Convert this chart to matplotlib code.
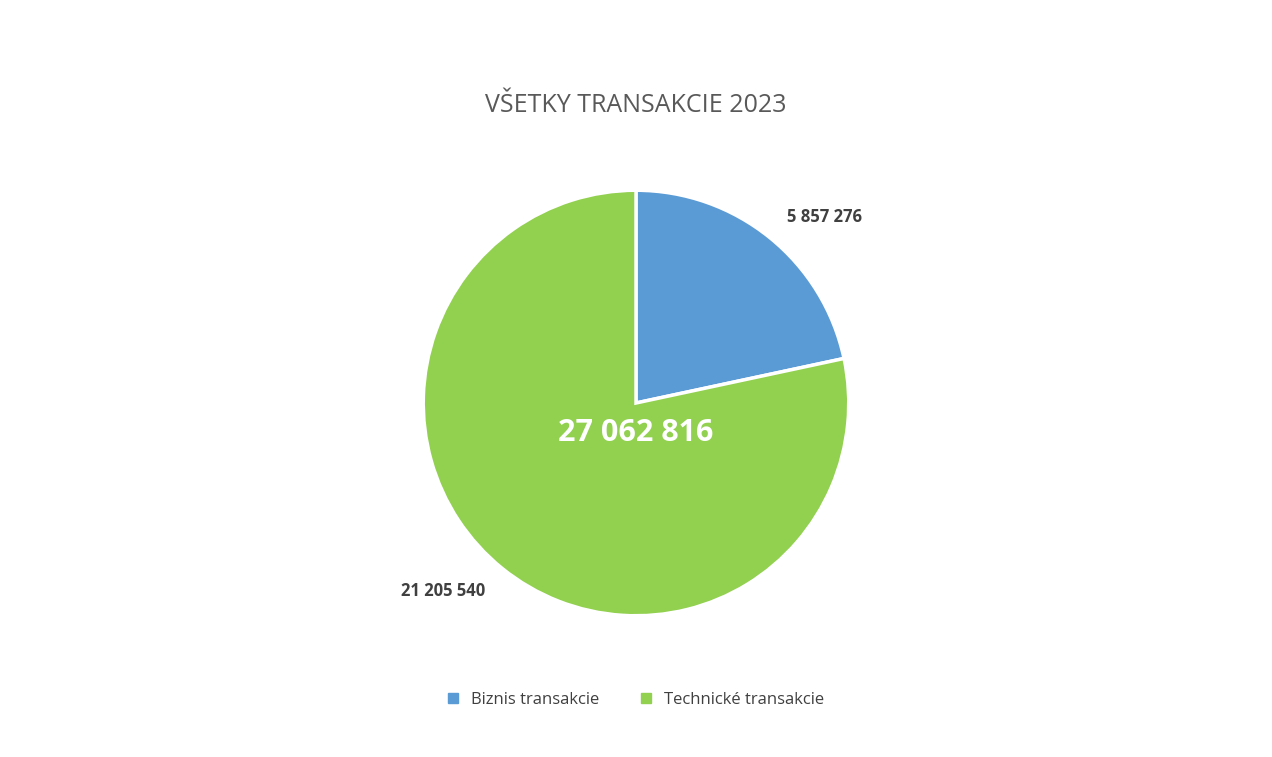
import matplotlib.pyplot as plt
from matplotlib.patches import Patch

plt.rcParams['font.family'] = ['Open Sans', 'DejaVu Sans']

kategorie = ['Biznis transakcie', 'Technické transakcie']
hodnoty = [5857276, 21205540]
popisky = ['5 857 276', '21 205 540']
spolu = '27 062 816'
farby = ['#5B9BD5', '#92D050']

fig = plt.figure(figsize=(12.72, 7.57), dpi=100)
r = 217
ax = fig.add_axes([(636 - r) / 1272, (757 - 403 - r) / 757, 2 * r / 1272, 2 * r / 757])
ax.pie(hodnoty, colors=farby, startangle=90, counterclock=False, radius=1,
       wedgeprops=dict(edgecolor='white', linewidth=2.5))
ax.set_xlim(-1.02, 1.02)
ax.set_ylim(-1.02, 1.02)
ax.set_aspect('equal')
ax.axis('off')

# popisky hodnot
ax.text(0.885, 0.876, popisky[0], ha='center', va='center', fontsize=12,
        fontweight='bold', color='#404040', clip_on=False)
ax.text(-0.908, -0.885, popisky[1], ha='center', va='center', fontsize=12,
        fontweight='bold', color='#404040', clip_on=False)
ax.text(0, -0.143, spolu, ha='center', va='center', fontsize=22,
        fontweight='bold', color='white')

fig.text(0.5, 1 - 105 / 757, 'VŠETKY TRANSAKCIE 2023', ha='center', va='center',
         fontsize=18, color='#595959')

handles = [Patch(color=c) for c in farby]
fig.legend(handles, kategorie, loc='center', bbox_to_anchor=(0.5, 1 - 700 / 757),
           ncol=2, frameon=False, fontsize=12, handlelength=0.6, handleheight=0.6,
           columnspacing=2.5, labelcolor='#404040')

fig.savefig('out.png', dpi=100, facecolor='white')
